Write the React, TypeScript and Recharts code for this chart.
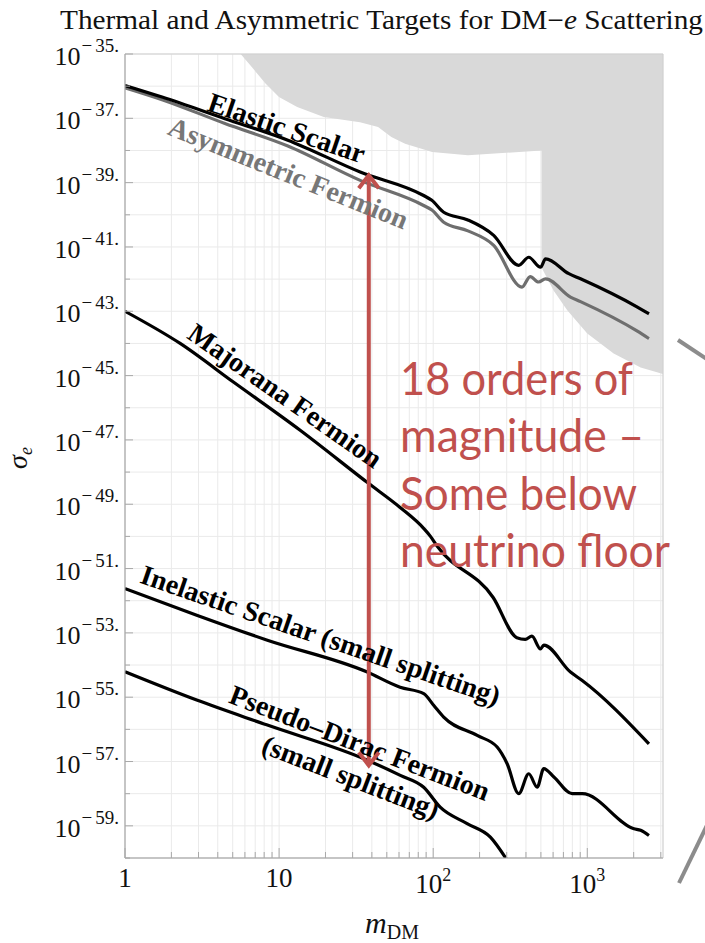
import { ComposedChart, Line, Area, XAxis, YAxis, CartesianGrid, ReferenceDot, ReferenceArea } from 'recharts'

const W = 705
const H = 943

// dark matter mass m_DM and log10(sigma_e)
const elasticM = [1, 1.74, 4.45, 11.4, 33.6, 86.7, 98, 117, 168, 247, 359, 417, 497, 536, 759, 904, 2114, 2513]
const elasticLog = [-35.98, -36.34, -37.01, -37.68, -38.67, -39.4, -39.55, -39.92, -40.16, -40.64, -41.57, -41.32, -41.63, -41.37, -41.83, -41.99, -42.87, -43.08]

const asymM = [1, 1.74, 4.45, 11.4, 33.6, 86.7, 98, 117, 168, 247, 377, 426, 483, 536, 778, 904, 2114, 2513]
const asymLog = [-36.05, -36.42, -37.16, -37.86, -38.93, -39.71, -39.85, -40.23, -40.5, -40.95, -42.25, -41.92, -42.09, -41.99, -42.56, -42.7, -43.62, -43.85]

const majoranaM = [1, 2.28, 5.05, 13.7, 38, 61, 86.7, 96, 106, 245, 349, 396, 437, 497, 522, 778, 927, 2513]
const majoranaLog = [-43.0, -44.0, -45.2, -46.7, -48.35, -49.1, -49.75, -50.0, -50.3, -51.9, -53.15, -53.2, -53.1, -53.5, -53.38, -54.22, -54.48, -56.45]

const inelasticM = [1, 2.92, 8.3, 37, 61, 86.8, 101, 117, 193, 260, 302, 359, 417, 473, 522, 607, 798, 927, 2009, 2219, 2513]
const inelasticLog = [-51.62, -52.45, -53.22, -54.21, -54.69, -54.89, -55.26, -55.62, -56.19, -56.55, -57.07, -58.0, -57.38, -57.8, -57.22, -57.48, -58.0, -58.0, -59.09, -59.14, -59.3]

const pseudoM = [1, 2.92, 8.3, 37, 61.2, 86.8, 111, 166, 235, 302]
const pseudoLog = [-54.21, -55.09, -55.86, -56.95, -57.43, -57.8, -58.42, -58.93, -59.35, -60.07]

// excluded region: lower edge, filled up to the top of the plot
const boundM = [5.63, 6.67, 8.16, 9.98, 13.1, 19.5, 33.5, 43.9, 53.5, 65.7, 98.4, 168, 505, 505, 604, 741, 1000, 1483, 2219, 3100]
const boundLog = [-35.0, -35.41, -35.92, -36.34, -36.65, -36.96, -37.12, -37.27, -37.58, -37.79, -38.05, -38.15, -38.0, -41.64, -42.35, -42.97, -43.69, -44.31, -44.75, -44.95]

// the "18 orders" arrow
const arrowM = [38.2, 38.2]
const arrowLog = [-38.77, -57.12]

const xTicks = [1, 2, 3, 4, 5, 6, 7, 8, 9, 10, 20, 30, 40, 50, 60, 70, 80, 90, 100, 200, 300, 400, 500, 600, 700, 800, 900, 1000, 2000, 3000]
const yTickExp = [-35, -36, -37, -38, -39, -40, -41, -42, -43, -44, -45, -46, -47, -48, -49, -50, -51, -52, -53, -54, -55, -56, -57, -58, -59, -60]

const curveLabels = [
  { text: 'Elastic Scalar', m: 11.2, log: -37.3, angle: 19, color: '#000' },
  { text: 'Asymmetric Fermion', m: 11.5, log: -38.7, angle: 22, color: '#777' },
  { text: 'Majorana Fermion', m: 10.96, log: -45.62, angle: 35, color: '#000' },
  { text: 'Inelastic Scalar (small splitting)', m: 18.6, log: -53.07, angle: 19, color: '#000' },
  { text: 'Pseudo\u2013Dirac Fermion', m: 33.4, log: -56.42, angle: 21, color: '#000' },
  { text: '(small splitting)', m: 29.2, log: -57.48, angle: 21, color: '#000' },
]

const pts = (ms: number[], logs: number[]) => ms.map((m, i) => ({ m, s: 10 ** logs[i] }))

const elastic = pts(elasticM, elasticLog)
const asym = pts(asymM, asymLog)
const majorana = pts(majoranaM, majoranaLog)
const inelastic = pts(inelasticM, inelasticLog)
const pseudo = pts(pseudoM, pseudoLog)
const bound = pts(boundM, boundLog)
const arrow = pts(arrowM, arrowLog)

const RED = '#C0504D'
const SERIF = '"Liberation Serif", "Times New Roman", serif'

const XTick = (p: any) => {
  const v = p.payload.value
  const major = v === 1 || v === 10 || v === 100 || v === 1000
  const len = major ? 10 : 6
  let label = null
  if (v === 1 || v === 10) {
    label = (
      <text x={p.x} y={p.y + 29} textAnchor="middle" fontFamily={SERIF} fontSize={27} fill="#111">
        {v}
      </text>
    )
  } else if (v === 100 || v === 1000) {
    label = (
      <text x={p.x} y={p.y + 35} textAnchor="middle" fontFamily={SERIF} fontSize={27} fill="#111">
        10<tspan fontSize={18} dy={-12}>{v === 100 ? 2 : 3}</tspan>
      </text>
    )
  }
  return (
    <g>
      <line x1={p.x} x2={p.x} y1={p.y} y2={p.y - len} stroke="#a8a8a8" strokeWidth={1} />
      {label}
    </g>
  )
}

const YTick = (p: any) => {
  const e = Math.round(Math.log10(p.payload.value))
  const major = e % 2 !== 0
  return (
    <g>
      <line x1={p.x} x2={p.x + (major ? 8 : 5)} y1={p.y} y2={p.y} stroke="#a8a8a8" strokeWidth={1} />
      {major && (
        <text x={p.x - 6} y={p.y + 11} textAnchor="end" fontFamily={SERIF} fontSize={26} fill="#111">
          10
          <tspan fontSize={19} dx={1} dy={-13}>{'\u2212'}</tspan>
          <tspan fontSize={19} dx={3}>{-e + '.'}</tspan>
        </text>
      )}
    </g>
  )
}

const chevron = (up: boolean) => (p: any) => {
  const d = up ? 13 : -13
  return (
    <path
      d={`M${p.cx - 10},${p.cy + d} L${p.cx},${p.cy} L${p.cx + 10},${p.cy + d}`}
      stroke={RED}
      strokeWidth={4}
      fill="none"
    />
  )
}

const textShape = (text: string, angle: number, color: string) => (p: any) => (
  <text
    x={p.cx}
    y={p.cy}
    transform={`rotate(${angle} ${p.cx} ${p.cy})`}
    textAnchor="middle"
    dominantBaseline="central"
    fontFamily={SERIF}
    fontWeight="bold"
    fontSize={28}
    fill={color}
  >
    {text}
  </text>
)

export default function App() {
  return (
    <div style={{ position: 'absolute', left: 0, top: 0, width: W, height: H, background: '#fff' }}>
      <ComposedChart width={W} height={H} margin={{ top: 54, right: 42, bottom: 0, left: 0 }}>
        <CartesianGrid stroke="#eaeaea" strokeWidth={1} />
        <XAxis
          dataKey="m"
          type="number"
          scale="log"
          domain={[1, 3100]}
          allowDataOverflow
          ticks={xTicks}
          interval={0}
          height={85}
          tickSize={0}
          tickMargin={0}
          tickLine={false}
          axisLine={{ stroke: '#a8a8a8' }}
          tick={<XTick />}
        />
        <YAxis
          dataKey="s"
          type="number"
          scale="log"
          domain={[1e-60, 1e-35]}
          allowDataOverflow
          ticks={yTickExp.map((e) => 10 ** e)}
          interval={0}
          width={125}
          tickSize={0}
          tickMargin={0}
          tickLine={false}
          axisLine={{ stroke: '#a8a8a8' }}
          tick={<YTick />}
        />
        <Area
          data={bound}
          dataKey="s"
          type="linear"
          baseValue="dataMax"
          fill="#d9d9d9"
          fillOpacity={1}
          stroke="none"
          isAnimationActive={false}
        />
        <ReferenceArea x1={1} x2={3100} y1={1e-60} y2={1e-35} fill="none" stroke="#cfcfcf" strokeWidth={1} />
        <Line data={asym} dataKey="s" type="monotoneX" stroke="#6e6e6e" strokeWidth={3.2} dot={false} isAnimationActive={false} />
        <Line data={elastic} dataKey="s" type="monotoneX" stroke="#000" strokeWidth={3.2} dot={false} isAnimationActive={false} />
        <Line data={majorana} dataKey="s" type="monotoneX" stroke="#000" strokeWidth={3.2} dot={false} isAnimationActive={false} />
        <Line data={inelastic} dataKey="s" type="monotoneX" stroke="#000" strokeWidth={3.2} dot={false} isAnimationActive={false} />
        <Line data={pseudo} dataKey="s" type="monotoneX" stroke="#000" strokeWidth={3.2} dot={false} isAnimationActive={false} />
        {curveLabels.map((l) => (
          <ReferenceDot key={l.text} x={l.m} y={10 ** l.log} r={0} shape={textShape(l.text, l.angle, l.color)} />
        ))}
        <Line data={arrow} dataKey="s" type="linear" stroke={RED} strokeWidth={4} dot={false} isAnimationActive={false} />
        <ReferenceDot x={arrowM[0]} y={10 ** arrowLog[0]} r={0} shape={chevron(true)} />
        <ReferenceDot x={arrowM[1]} y={10 ** arrowLog[1]} r={0} shape={chevron(false)} />
      </ComposedChart>

      <svg width={W} height={H} style={{ position: 'absolute', left: 0, top: 0, pointerEvents: 'none' }}>
        <text x={60} y={29} fontFamily={SERIF} fontSize={27} fill="#111" textLength={643} lengthAdjust="spacingAndGlyphs">
          Thermal and Asymmetric Targets for DM{'\u2212'}<tspan fontStyle="italic">e</tspan> Scattering
        </text>
        <text transform="translate(27,458) rotate(-90)" textAnchor="middle" fontFamily={SERIF} fontSize={28} fontStyle="italic" fill="#111">
          σ<tspan fontSize={18} dy={5}>e</tspan>
        </text>
        <text x={392} y={933} textAnchor="middle" fontFamily={SERIF} fontSize={30} fill="#111">
          <tspan fontStyle="italic">m</tspan>
          <tspan fontSize={20} dy={6}>DM</tspan>
        </text>
        <g fontFamily="Lato, 'Open Sans', sans-serif" fontSize={46} fill={RED}>
          <text x={400} y={395} textLength={233} lengthAdjust="spacingAndGlyphs">18 orders of</text>
          <text x={400} y={452} textLength={244} lengthAdjust="spacingAndGlyphs">magnitude –</text>
          <text x={400} y={510} textLength={237} lengthAdjust="spacingAndGlyphs">Some below</text>
          <text x={400} y={567} textLength={270} lengthAdjust="spacingAndGlyphs">neutrino floor</text>
        </g>
        <line x1={678} y1={340} x2={722} y2={369} stroke="#8c8c8c" strokeWidth={4} />
        <line x1={679} y1={883} x2={712} y2={815} stroke="#8c8c8c" strokeWidth={4} />
      </svg>
    </div>
  )
}
